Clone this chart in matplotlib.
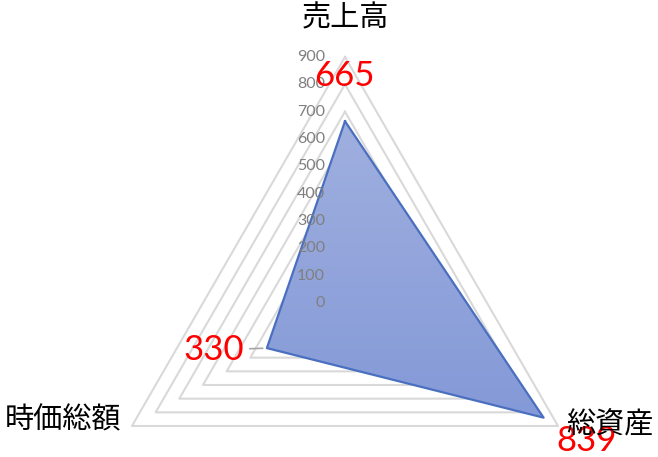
import numpy as np
import matplotlib
matplotlib.use("Agg")
import matplotlib.pyplot as plt
from matplotlib.colors import LinearSegmentedColormap

categories = ["売上高", "総資産", "時価総額"]
values = [665, 839, 330]
tick_values = [0, 100, 200, 300, 400, 500, 600, 700, 800, 900]
tick_labels = [str(t) for t in tick_values]
r_max = 900

W, H = 658, 457
fig = plt.figure(figsize=(W / 100, H / 100), dpi=100)

cx, cy, rad = 345, 303, 246
rect = [(cx - rad) / W, (H - cy - rad) / H, 2 * rad / W, 2 * rad / H]


def make_polar(z):
    a = fig.add_axes(rect, projection="polar", zorder=z)
    a.set_theta_offset(np.pi / 2)
    a.set_theta_direction(-1)
    a.set_ylim(0, r_max)
    a.grid(False)
    a.set_xticks([])
    a.set_yticks([])
    a.spines["polar"].set_visible(False)
    a.patch.set_visible(False)
    return a


n = len(categories)
angles = np.arange(n) * 2 * np.pi / n
ang_closed = np.concatenate([angles, angles[:1]])

# grid axes (bottom)
gridax = make_polar(0)
for t in tick_values[1:]:
    gridax.plot(ang_closed, [t] * (n + 1), color="#D9D9D9", lw=1.5,
                clip_on=False)

# main axes (top)
ax = make_polar(2)
vals_closed = values + values[:1]
poly = ax.fill(ang_closed, vals_closed, facecolor="none", edgecolor="none",
               zorder=2, clip_on=False)[0]
ax.plot(ang_closed, vals_closed, color="#4A6FC0", lw=1.6, zorder=3,
        clip_on=False)

# gradient fill clipped to the polygon (middle)
gax = fig.add_axes([0, 0, 1, 1], zorder=1)
gax.axis("off")
cmap = LinearSegmentedColormap.from_list("g", ["#ABB8E2", "#8096D6"])
grad = np.linspace(0, 1, 256).reshape(-1, 1)
im = gax.imshow(grad, cmap=cmap, aspect="auto", extent=[0, 1, 0, 1],
                transform=gax.transAxes, origin="upper")
im.set_clip_path(poly)

# radial tick labels
for t, lab in zip(tick_values, tick_labels):
    ax.annotate(lab, xy=(0, t), xytext=(-20, 0), textcoords="offset pixels",
                ha="right", va="center", fontsize=11.5, color="#7F7F7F",
                family=["Lato", "DejaVu Sans"], zorder=4, annotation_clip=False)

# data labels
offsets = [(-1, 45), (43, -23), (-53, -2)]
for a, v, off in zip(angles, values, offsets):
    kw = {}
    if v == 330:
        kw["arrowprops"] = dict(arrowstyle="-", color="#A6A6A6", lw=1.2,
                                shrinkA=2, shrinkB=3)
    ax.annotate(str(v), xy=(a, v), xytext=off, textcoords="offset pixels",
                ha="center", va="center", fontsize=25, color="#FF0000",
                family=["Lato", "DejaVu Sans"], zorder=5,
                annotation_clip=False, **kw)

# category labels
cat_pos = [(345, 18), (610, 425), (63, 420)]
for lab, (px, py) in zip(categories, cat_pos):
    fig.text(px / W, 1 - py / H, lab, ha="center", va="center", fontsize=21,
             family=["Noto Sans CJK JP", "DejaVu Sans"], color="#000000")

fig.savefig("out.png", dpi=100)
